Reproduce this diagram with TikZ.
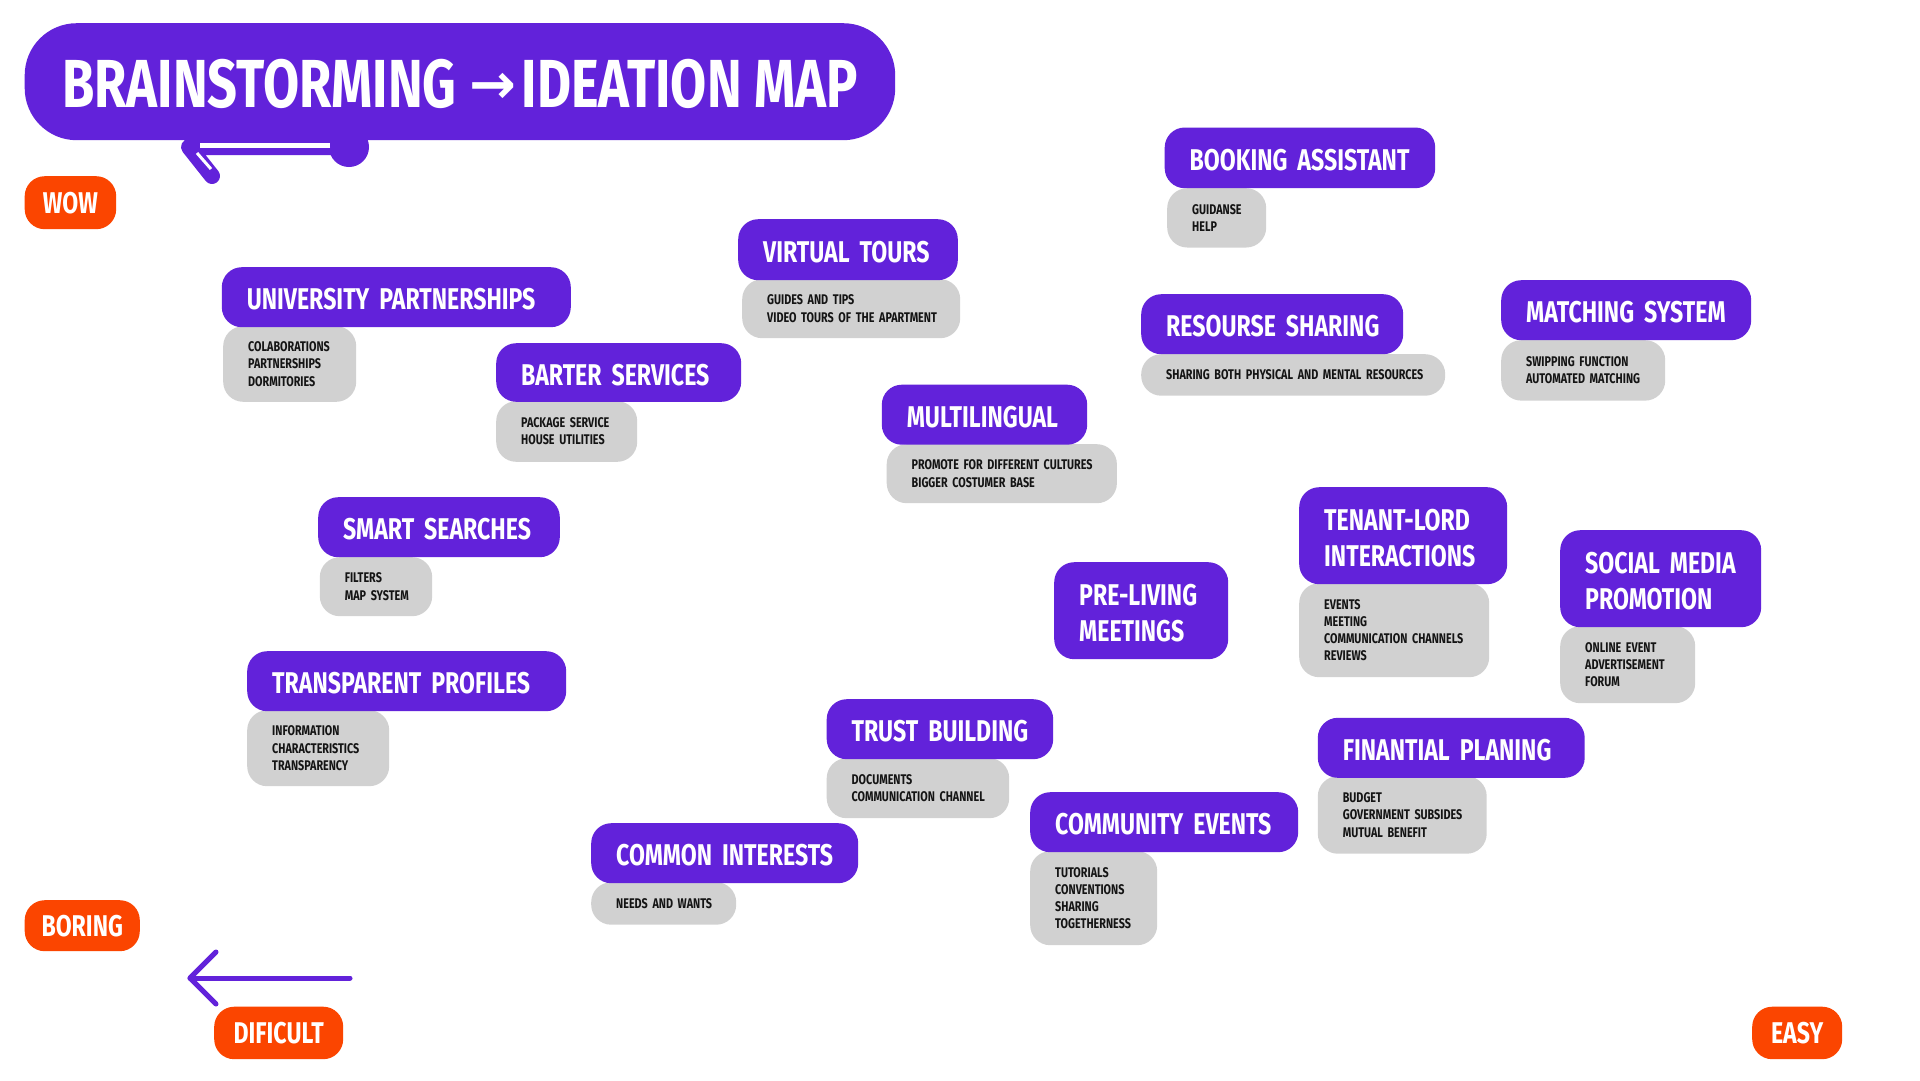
\documentclass[tikz,border=0pt]{standalone}
\usepackage{fontspec}
\newfontfamily\hfont{Fira Sans}[FakeStretch=0.77]
\newfontfamily\arrfont{DejaVu Sans}
\definecolor{ipurple}{HTML}{6222DA}
\definecolor{iorange}{HTML}{FB4500}
\definecolor{igray}{HTML}{D1D1D1}
\tikzset{
  pbox/.style={fill=ipurple, rounded corners=20pt, text=white,
    font=\hfont\bfseries\fontsize{30}{36.7}\selectfont,
    inner xsep=0pt, inner ysep=0pt,
    execute at begin node={\rule{0pt}{26pt}}},
  gbox/.style={fill=igray, rounded corners=20pt, text=black!92,
    font=\hfont\bfseries\fontsize{14}{17.2}\selectfont,
    inner xsep=0pt, inner ysep=0pt},
  obox/.style={fill=iorange, rounded corners=20pt, text=white,
    font=\hfont\bfseries\fontsize{30}{36}\selectfont, inner sep=0pt},
  titlebox/.style={fill=ipurple, rounded corners=52pt, text=white,
    font=\hfont\bfseries\fontsize{68}{80}\selectfont, inner sep=0pt,
    text height=52pt, text depth=0pt},
  axisarrow/.style={draw=ipurple, line width=5pt, line cap=round, line join=round},
}
% style, name, x1, y1, x2, y2, text
\newcommand{\ideabox}[7]{%
  \pgfmathsetmacro\ibw{#5-#3}%
  \pgfmathsetmacro\ibh{#6-#4}%
  \node[#1, minimum width=\ibw pt, minimum height=\ibh pt, text width=\ibw pt,
        anchor=north west] (#2) at (#3,#4)
        {\raggedright\leftskip=25pt\parindent=0pt\hyphenpenalty=10000\exhyphenpenalty=10000 #7\par};}
\newcommand{\tagbox}[7]{%
  \pgfmathsetmacro\ibw{#5-#3}%
  \pgfmathsetmacro\ibh{#6-#4}%
  \node[#1, minimum width=\ibw pt, minimum height=\ibh pt,
        anchor=north west] (#2) at (#3,#4) {#7};}
\begin{document}
\begin{tikzpicture}[x=1pt,y=-1pt]
\useasboundingbox (0,0) rectangle (1920,1080);
\fill[white] (0,0) rectangle (1920,1080);

% tail under the title
\coordinate (tailR) at (349,147);
\coordinate (tailL) at (189,147);
\coordinate (tailH) at (212,176);
\fill[ipurple] (tailR) circle (20);
\draw[ipurple, line width=16pt, line cap=round, line join=round] (tailR) -- (tailL) -- (tailH);
\draw[white, line width=5pt] (330,145) -- (200,145);
\draw[white, line width=3pt] (197,153) -- (211,169);

% title
\tagbox{titlebox}{title}{24.5}{23}{895}{140}{BRAINSTORMING {\arrfont\fontsize{56}{60}\selectfont\raisebox{4pt}{→}}\hspace{6pt}IDEATION MAP}

% axis labels
\tagbox{obox}{wow}{24.5}{176}{116}{229}{WOW}
\tagbox{obox}{boring}{24.5}{900}{139.6}{951}{BORING}
\tagbox{obox}{dificult}{214}{1006.5}{343}{1059}{DIFICULT}
\tagbox{obox}{easy}{1752}{1006.5}{1842}{1059}{EASY}

% bottom arrow
\coordinate (arrS) at (350,978);
\coordinate (arrT) at (190,978);
\coordinate (arrU) at (216,952);
\coordinate (arrD) at (216,1004);
\draw[axisarrow] (arrS) -- (arrT);
\draw[axisarrow] (arrU) -- (arrT) -- (arrD);

% detail boxes (drawn first)
\ideabox{gbox}{bookingD}{1167}{188}{1266}{247.3}{GUIDANSE\\HELP}
\ideabox{gbox}{virtualD}{742}{279}{960}{338}{GUIDES AND TIPS\\VIDEO TOURS OF THE APARTMENT}
\ideabox{gbox}{univD}{223}{326}{356}{401.6}{COLABORATIONS\\PARTNERSHIPS\\DORMITORIES}
\ideabox{gbox}{resD}{1141}{354}{1445}{395.5}{SHARING BOTH PHYSICAL AND MENTAL RESOURCES}
\ideabox{gbox}{matchD}{1501}{340}{1665}{400.4}{SWIPPING FUNCTION\\AUTOMATED MATCHING}
\ideabox{gbox}{barterD}{496}{401}{637}{461.6}{PACKAGE SERVICE\\HOUSE UTILITIES}
\ideabox{gbox}{multiD}{886.5}{444}{1116.7}{503}{PROMOTE FOR DIFFERENT CULTURES\\BIGGER COSTUMER BASE}
\ideabox{gbox}{smartD}{319.6}{557}{432}{616}{FILTERS\\MAP SYSTEM}
\ideabox{gbox}{tenantD}{1299}{583}{1489}{677}{EVENTS\\MEETING\\COMMUNICATION CHANNELS\\REVIEWS}
\ideabox{gbox}{socialD}{1560}{626}{1695}{703}{ONLINE EVENT\\ADVERTISEMENT\\FORUM}
\ideabox{gbox}{transD}{247}{710}{389}{786}{INFORMATION\\CHARACTERISTICS\\TRANSPARENCY}
\ideabox{gbox}{trustD}{826.5}{758}{1009}{818}{DOCUMENTS\\COMMUNICATION CHANNEL}
\ideabox{gbox}{finD}{1317.6}{776}{1486.5}{853.5}{BUDGET\\GOVERNMENT SUBSIDES\\MUTUAL BENEFIT}
\ideabox{gbox}{commD}{1030}{851}{1157}{945}{TUTORIALS\\CONVENTIONS\\SHARING\\TOGETHERNESS}
\ideabox{gbox}{interD}{591}{882}{736}{924.5}{NEEDS AND WANTS}

% idea titles
\ideabox{pbox}{booking}{1164.5}{127.3}{1435}{188}{BOOKING ASSISTANT}
\ideabox{pbox}{virtual}{738}{219}{957.6}{280}{VIRTUAL TOURS}
\ideabox{pbox}{univ}{221.6}{267}{570.6}{327}{UNIVERSITY PARTNERSHIPS}
\ideabox{pbox}{res}{1141}{294}{1403}{354}{RESOURSE SHARING}
\ideabox{pbox}{match}{1501}{280}{1751}{340}{MATCHING SYSTEM}
\ideabox{pbox}{barter}{496}{343}{741}{401.6}{BARTER SERVICES}
\ideabox{pbox}{multi}{881.6}{384.5}{1087}{444.5}{MULTILINGUAL}
\ideabox{pbox}{smart}{318}{497}{559.6}{557}{SMART SEARCHES}
\ideabox{pbox}{tenant}{1299}{487}{1507}{584}{TENANT-LORD\\INTERACTIONS}
\ideabox{pbox}{preliving}{1054}{562}{1228}{659}{PRE-LIVING\\MEETINGS}
\ideabox{pbox}{social}{1560}{530}{1761}{627}{SOCIAL MEDIA\\PROMOTION}
\ideabox{pbox}{trans}{247}{651}{566}{711}{TRANSPARENT PROFILES}
\ideabox{pbox}{trust}{826.5}{699}{1053}{759}{TRUST BUILDING}
\ideabox{pbox}{fin}{1317.6}{717.6}{1584.5}{777.6}{FINANTIAL PLANING}
\ideabox{pbox}{comm}{1030}{792}{1298}{852}{COMMUNITY EVENTS}
\ideabox{pbox}{inter}{591}{823}{858}{883}{COMMON INTERESTS}
\end{tikzpicture}
\end{document}
